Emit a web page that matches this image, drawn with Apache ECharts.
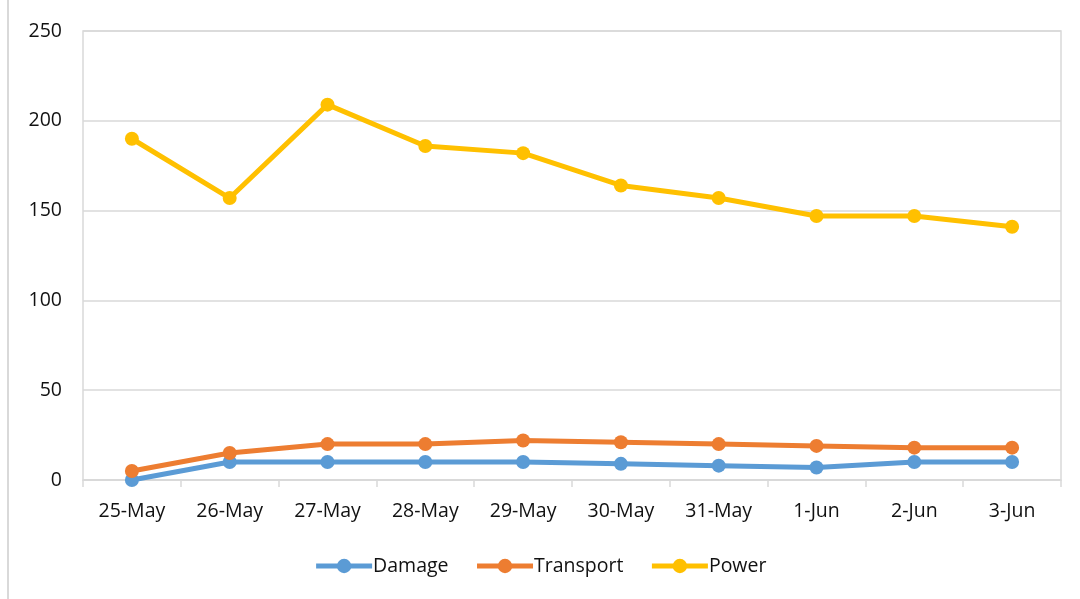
<!DOCTYPE html>
<html><head><meta charset="utf-8">
<script src="https://cdn.jsdelivr.net/npm/echarts@6/dist/echarts.min.js"></script>
<style>html,body{margin:0;padding:0;background:#fff}#c{width:1080px;height:599px}</style>
</head><body><div id="c"></div>
<script>
const categories = ['25-May','26-May','27-May','28-May','29-May','30-May','31-May','1-Jun','2-Jun','3-Jun'];
const damage = [0,10,10,10,10,9,8,7,10,10];
const transport = [5,15,20,20,22,21,20,19,18,18];
const power = [190,157,209,186,182,164,157,147,147,141];
const seriesNames = ['Damage','Transport','Power'];
const colors = ['#5b9bd5','#ed7d31','#ffc000'];
const font = 'Open Sans, Liberation Sans, sans-serif';
const chart = echarts.init(document.getElementById('c'));
function mk(name, data, color){
  return {name, type:'line', data, symbol:'circle', symbolSize:14,
    lineStyle:{width:5,color}, itemStyle:{color}, z: 2};
}
chart.setOption({
  animation:false,
  color:colors,
  grid:{left:83,right:19,top:31,bottom:119,show:true,borderColor:'#d9d9d9',borderWidth:1.5},
  graphic:[{type:'line',shape:{x1:8,y1:0,x2:8,y2:599},style:{stroke:'#d9d9d9',lineWidth:2}}],
  xAxis:{type:'category',data:categories,boundaryGap:true,
    axisLine:{lineStyle:{color:'#d9d9d9',width:1.5}},
    axisTick:{show:true,length:7,interval:0,lineStyle:{color:'#d9d9d9',width:1.5}},
    axisLabel:{color:'#111',fontSize:19.5,fontFamily:font,margin:21,interval:0}},
  yAxis:{type:'value',min:0,max:250,interval:50,
    axisLine:{show:false},axisTick:{show:false},
    splitLine:{lineStyle:{color:'#d9d9d9',width:1.5}},
    axisLabel:{color:'#111',fontSize:19.5,fontFamily:font,margin:21}},
  legend:{bottom:18,left:'center',itemWidth:56,itemHeight:18,itemGap:26,
    lineStyle:{width:5},
    textStyle:{color:'#111',fontSize:19.5,fontFamily:font,padding:[0,0,0,-4]},
    data:seriesNames},
  series:[mk(seriesNames[0],damage,colors[0]),mk(seriesNames[1],transport,colors[1]),mk(seriesNames[2],power,colors[2])]
});
</script></body></html>
